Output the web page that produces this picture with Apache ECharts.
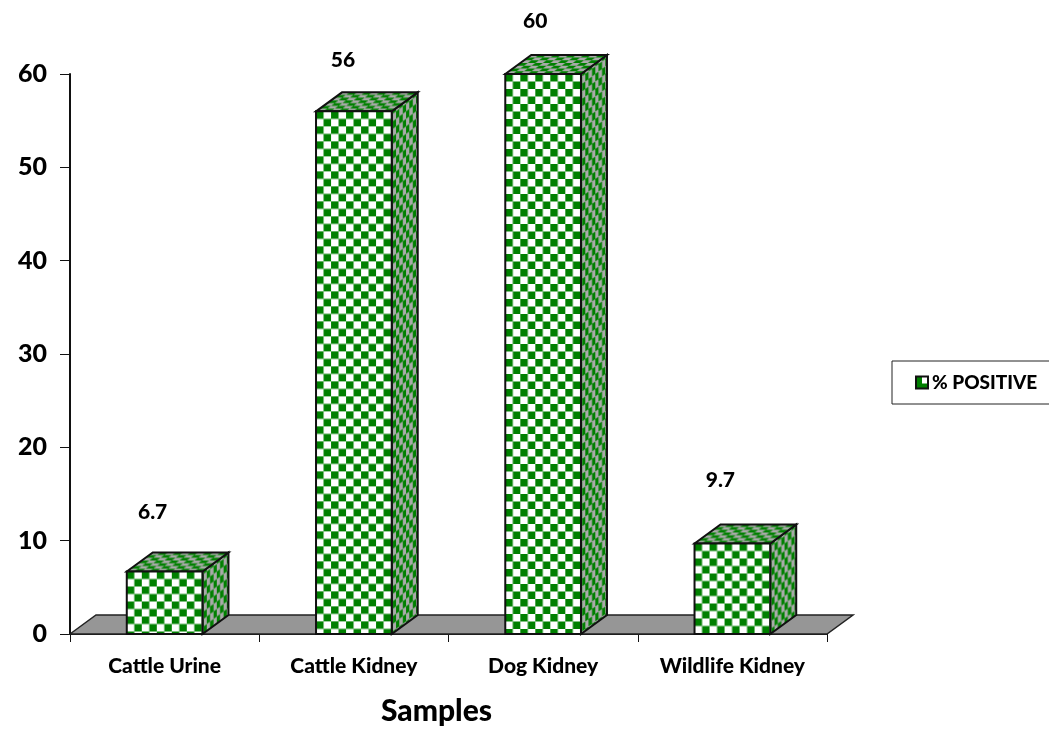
<!DOCTYPE html>
<html>
<head>
<meta charset="utf-8">
<style>
  html, body { margin: 0; padding: 0; background: #fff; }
  #chart { width: 1049px; height: 730px; }
</style>
<script src="https://cdn.jsdelivr.net/npm/echarts@6/dist/echarts.min.js"></script>
</head>
<body>
<div id="chart"></div>
<script>
const categories = ['Cattle Urine', 'Cattle Kidney', 'Dog Kidney', 'Wildlife Kidney']
const positive = [6.7, 56, 60, 9.7]
const valueLabels = ['6.7', '56', '60', '9.7']
const seriesName = '% POSITIVE'

// where the value labels sit relative to the top of each bar
const labelShift = [[-12, -59], [-11, -51], [-8, -53], [-12, -63]]
const depthX = 26
const depthY = 19
const green = [0, 128, 0]
const light = [255, 255, 255]
const sideLight = [170, 170, 170]
const font = 'Lato, "Open Sans", sans-serif'

// builds a repeating tile, sampling each pixel 4x4 so the edges stay soft
function makeTile (w, h, colA, colB, isA) {
  const canvas = document.createElement('canvas')
  canvas.width = w
  canvas.height = h
  const ctx = canvas.getContext('2d')
  for (let y = 0; y < h; y++) {
    for (let x = 0; x < w; x++) {
      let n = 0
      for (let i = 0; i < 4; i++) {
        for (let j = 0; j < 4; j++) {
          if (isA(x + (i + 0.5) / 4, y + (j + 0.5) / 4)) n++
        }
      }
      const t = n / 16
      const c = colA.map((v, k) => Math.round(v * t + colB[k] * (1 - t)))
      ctx.fillStyle = `rgb(${c[0]},${c[1]},${c[2]})`
      ctx.fillRect(x, y, 1, 1)
    }
  }
  return { image: canvas, repeat: 'repeat' }
}

const checker = (u, v, pu, pv) => ((Math.floor(u / pu * 2) + Math.floor(v / pv * 2)) % 2 + 2) % 2 === 0

const frontFill = makeTile(15, 15, green, light, (x, y) => checker(x, y, 15, 15))
const sideFill = makeTile(20, 15, green, sideLight, (x, y) => checker(x, y + 0.75 * x, 20 / 3, 15))
const topFill = makeTile(15, 11, green, sideLight, (x, y) => checker(x + 15 / 11 * y, y, 15, 5.5))

function legendTile () {
  const canvas = document.createElement('canvas')
  canvas.width = 12
  canvas.height = 12
  const ctx = canvas.getContext('2d')
  ctx.fillStyle = '#007f00'
  ctx.fillRect(0, 0, 12, 12)
  ctx.fillStyle = '#fff'
  ctx.fillRect(6, 0, 6, 7)
  return { image: canvas, repeat: 'repeat' }
}

const edge = { stroke: '#111', lineWidth: 2, lineJoin: 'miter' }

function renderBar (params, api) {
  const index = api.value(0)
  const top = api.coord([index, api.value(1)])
  const base = api.coord([index, 0])
  const w = api.size([1, 0])[0] * 0.4
  const h = base[1] - top[1]
  const shift = labelShift[index]
  return {
    type: 'group',
    x: top[0] - w / 2,
    y: top[1],
    children: [
      {
        type: 'polygon',
        shape: { points: [[w, 0], [w + depthX, -depthY], [w + depthX, h - depthY], [w, h]] },
        style: { fill: sideFill, ...edge }
      },
      {
        type: 'polygon',
        shape: { points: [[0, 0], [depthX, -depthY], [w + depthX, -depthY], [w, 0]] },
        style: { fill: topFill, ...edge }
      },
      {
        type: 'rect',
        shape: { x: 0, y: 0, width: w, height: h },
        style: { fill: frontFill, ...edge }
      },
      {
        type: 'text',
        x: w / 2 + shift[0],
        y: shift[1],
        style: {
          text: valueLabels[index],
          fill: '#000',
          font: `900 21px ${font}`,
          textAlign: 'center',
          textVerticalAlign: 'middle'
        }
      }
    ]
  }
}

function renderFloor (params, api) {
  const sys = params.coordSys
  const y = sys.y + sys.height
  return {
    type: 'polygon',
    shape: {
      points: [
        [sys.x, y],
        [sys.x + depthX, y - depthY],
        [sys.x + sys.width + depthX, y - depthY],
        [sys.x + sys.width, y]
      ]
    },
    style: { fill: '#969696', stroke: '#222', lineWidth: 1.5 }
  }
}

const chart = echarts.init(document.getElementById('chart'))
chart.setOption({
  animation: false,
  backgroundColor: '#fff',
  textStyle: { fontFamily: font },
  grid: { left: 70, top: 74, width: 757, height: 560, outerBoundsMode: 'none' },
  legend: {
    left: 892,
    top: 361,
    padding: [12, 40, 12, 23],
    backgroundColor: '#fff',
    borderColor: '#222',
    borderWidth: 1,
    icon: 'rect',
    itemWidth: 12,
    itemHeight: 12,
    itemGap: 0,
    data: [{ name: seriesName, itemStyle: { color: legendTile(), borderColor: '#111', borderWidth: 2 } }],
    textStyle: { fontFamily: font, fontWeight: 900, fontSize: 19, color: '#000', padding: [0, 0, 0, -1] }
  },
  xAxis: {
    type: 'category',
    data: categories,
    name: 'Samples',
    nameLocation: 'middle',
    nameGap: 62,
    nameTextStyle: { fontFamily: font, fontWeight: 900, fontSize: 30, color: '#000', padding: [0, 24, 0, 0] },
    axisLine: { lineStyle: { color: '#111', width: 2 } },
    axisTick: { show: true, length: 8, alignWithLabel: false, lineStyle: { color: '#111', width: 1 } },
    axisLabel: { fontFamily: font, fontWeight: 900, fontSize: 21, color: '#000', margin: 22 }
  },
  yAxis: {
    type: 'value',
    min: 0,
    max: 60,
    interval: 10,
    axisLine: { show: true, lineStyle: { color: '#111', width: 2 } },
    axisTick: { show: true, length: 10, lineStyle: { color: '#111', width: 1 } },
    splitLine: { show: false },
    axisLabel: { fontFamily: font, fontWeight: 900, fontSize: 25, color: '#000', margin: 23 }
  },
  series: [
    {
      name: 'floor',
      type: 'custom',
      renderItem: renderFloor,
      data: [0],
      z: 1,
      silent: true
    },
    {
      name: seriesName,
      type: 'custom',
      renderItem: renderBar,
      encode: { x: 0, y: 1 },
      data: positive.map((v, i) => [i, v]),
      z: 3
    }
  ]
})
window.addEventListener('resize', () => chart.resize())
</script>
</body>
</html>
